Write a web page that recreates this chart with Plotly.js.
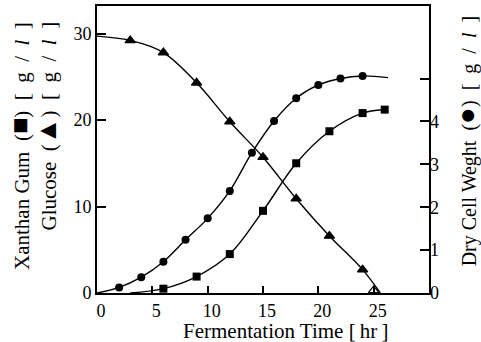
<!DOCTYPE html>
<html><head><meta charset="utf-8">
<script src="https://cdn.plot.ly/plotly-3.0.1.min.js"></script>
</head><body style="margin:0;padding:0"><div id="chart" style="width:481px;height:342px"></div>
<script>
// Glucose (left axis, g/l)
const glucoseTime = [3, 6, 9, 12, 15, 18, 21, 24, 25];
const glucoseValue = [29.2, 27.8, 24.3, 19.8, 15.7, 10.9, 6.6, 2.7, 0.3];
const glucoseCurveTime = [0, 3, 6, 9, 12, 15, 18, 21, 24, 25.6];
const glucoseCurveValue = [29.7, 29.2, 27.8, 24.3, 19.8, 15.7, 10.9, 6.6, 2.7, 0];

// Xanthan gum (left axis, g/l)
const xanthanTime = [6, 9, 12, 15, 18, 21, 24, 26];
const xanthanValue = [0.5, 1.9, 4.5, 9.5, 15.0, 18.7, 20.8, 21.2];
const xanthanCurveTime = [3, 6, 9, 12, 15, 18, 21, 24, 26, 26.3];
const xanthanCurveValue = [0, 0.5, 1.9, 4.5, 9.5, 15.0, 18.7, 20.8, 21.2, 21.2];

// Dry cell weight (right axis, g/l)
const dcwTime = [2, 4, 6, 8, 10, 12, 14, 16, 18, 20, 22, 24];
const dcwValue = [0.13, 0.37, 0.73, 1.24, 1.74, 2.38, 3.27, 4.01, 4.54, 4.85, 5.0, 5.06];
const dcwCurveTime = [0, 2, 4, 6, 8, 10, 12, 14, 16, 18, 20, 22, 24, 26.3];
const dcwCurveValue = [0, 0.13, 0.37, 0.73, 1.24, 1.74, 2.38, 3.27, 4.01, 4.54, 4.85, 5.0, 5.06, 5.02];

const xTicks = [0, 5, 10, 15, 20, 25];
const leftTicks = [0, 10, 20, 30];
const rightTicks = [0, 1, 2, 3, 4, 5];
const rightTickText = ['0', '1', '2', '3', '4', ''];

const lineStyle = {color: '#000', width: 1.4, shape: 'spline', smoothing: 1};
const glucoseSymbols = glucoseTime.map((t, i) => i === glucoseTime.length - 1 ? 'triangle-up-open' : 'triangle-up');

const traces = [
  {x: glucoseCurveTime, y: glucoseCurveValue, mode: 'lines', line: lineStyle, hoverinfo: 'skip'},
  {x: xanthanCurveTime, y: xanthanCurveValue, mode: 'lines', line: lineStyle, hoverinfo: 'skip'},
  {x: dcwCurveTime, y: dcwCurveValue, mode: 'lines', line: lineStyle, yaxis: 'y2', hoverinfo: 'skip'},
  {x: glucoseTime, y: glucoseValue, mode: 'markers', cliponaxis: false,
   marker: {symbol: glucoseSymbols, size: 9, color: '#000', line: {color: '#000', width: 1.2}}},
  {x: xanthanTime, y: xanthanValue, mode: 'markers', cliponaxis: false,
   marker: {symbol: 'square', size: 8, color: '#000'}},
  {x: dcwTime, y: dcwValue, mode: 'markers', yaxis: 'y2', cliponaxis: false,
   marker: {symbol: 'circle', size: 8, color: '#000'}}
];

const layout = {
  width: 481, height: 342, autosize: false,
  margin: {l: 97, r: 52, t: 6, b: 49},
  showlegend: false,
  modebar: {bgcolor: 'rgba(0,0,0,0)', color: 'rgba(0,0,0,0)', activecolor: 'rgba(0,0,0,0)'},
  font: {family: 'Liberation Serif', color: '#000', size: 18},
  xaxis: {
    range: [0, 30], tickvals: xTicks, ticks: 'inside', ticklen: 7, tickwidth: 1.5, tickcolor: '#000',
    showline: true, linewidth: 2, linecolor: '#000', mirror: true, showgrid: false, zeroline: false,
    tickfont: {family: 'Liberation Serif', size: 18, color: '#000'}, ticklabelshift: 4
  },
  yaxis: {
    range: [0, 33.18], tickvals: leftTicks, ticks: 'inside', ticklen: 9, tickwidth: 1.5, tickcolor: '#000',
    showline: true, linewidth: 2, linecolor: '#000', mirror: true, showgrid: false, zeroline: false,
    tickfont: {family: 'Liberation Serif', size: 18, color: '#000'}
  },
  yaxis2: {
    overlaying: 'y', side: 'right', range: [0, 6.69], tickvals: rightTicks, ticktext: rightTickText,
    ticks: 'inside', ticklen: 9, tickwidth: 1.5, tickcolor: '#000', showline: false, showgrid: false,
    zeroline: false, tickfont: {family: 'Liberation Serif', size: 18, color: '#000'}, ticklabelstandoff: 0
  },
  annotations: [
    {text: 'Fermentation Time [\u2009hr\u2009]', xref: 'paper', yref: 'paper', x: 0.569, y: -0.132,
     xanchor: 'center', yanchor: 'middle', showarrow: false, font: {family: 'Liberation Serif', size: 21, color: '#000'}},
    {text: 'Xanthan Gum\u2002(<span style="font-size:27px">\u25A0</span>)\u2002[\u2002g\u2002/\u2002<i>l</i>\u2002]',
     xref: 'paper', yref: 'paper', x: -0.2319, y: 0.9512, xanchor: 'center', yanchor: 'top', textangle: -90,
     showarrow: false, font: {family: 'Liberation Serif', size: 21, color: '#000'}},
    {text: 'Glucose\u2002(<span style="font-size:27px">\u25B2</span>)\u2002[\u2002g\u2002/\u2002<i>l</i>\u2002]',
     xref: 'paper', yref: 'paper', x: -0.1506, y: 0.9512, xanchor: 'center', yanchor: 'top', textangle: -90,
     showarrow: false, font: {family: 'Liberation Serif', size: 21, color: '#000'}},
    {text: 'Dry Cell Weght\u2002(<span style="font-size:28px">\u25CF</span>)\u2002[\u2002g\u2002/\u2002<i>l</i>\u2002]',
     xref: 'paper', yref: 'paper', x: 1.114, y: 0.9756, xanchor: 'center', yanchor: 'top', textangle: -90,
     showarrow: false, font: {family: 'Liberation Serif', size: 20, color: '#000'}}
  ]
};

Plotly.newPlot('chart', traces, layout).then(function (gd) {
  var mb = gd.querySelector('.modebar-container');
  if (mb) mb.style.display = 'none';
});
</script></body></html>
